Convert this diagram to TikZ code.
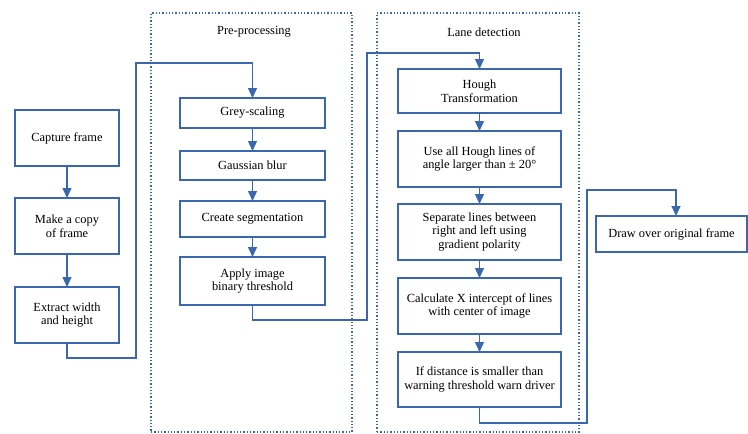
\documentclass[tikz,border=0pt]{standalone}
\usepackage{fontspec}
\setmainfont{Liberation Serif}
\usetikzlibrary{arrows.meta}
\definecolor{fb}{HTML}{3A68B0}
\tikzset{
  box/.style={draw=fb, line width=1.3pt, fill=white, align=center, inner sep=0pt, outer sep=0pt, font=\fontsize{12.4}{13.8}\selectfont},
  cont/.style={draw=fb, line width=1.3pt, dash pattern=on 1.3pt off 2pt, inner sep=0pt, outer sep=0pt},
  conn/.style={draw=fb, line width=1.3pt, -{Triangle[width=9pt,length=10pt]}},
  ttl/.style={font=\fontsize{12.4}{13.8}\selectfont, inner sep=0pt}
}
\begin{document}
\begin{tikzpicture}[x=1pt,y=-1pt]
\useasboundingbox (0,0) rectangle (748,434);
% containers
\node[cont, minimum width=201, minimum height=419] (pre) at (251.5,222.5) {};
\node[cont, minimum width=202, minimum height=419] (lane) at (478,222.5) {};
\node[ttl] (tpre) at (254,32) {Pre-processing};
\node[ttl] (tlane) at (484,32) {Lane detection};
% left column
\node[box, minimum width=104, minimum height=56] (cap) at (67,138) {Capture frame};
\node[box, minimum width=104, minimum height=56] (copy) at (67,226) {Make a copy\\of frame};
\node[box, minimum width=104, minimum height=56] (ext) at (67,315) {Extract width\\and height};
% pre-processing
\node[box, minimum width=145, minimum height=30] (grey) at (252.5,113) {Grey-scaling};
\node[box, minimum width=145, minimum height=29] (gauss) at (252.5,165.5) {Gaussian blur};
\node[box, minimum width=145, minimum height=36] (seg) at (252.5,219) {Create segmentation};
\node[box, minimum width=145, minimum height=48] (app) at (252.5,281) {Apply image\\binary threshold};
% lane detection
\node[box, minimum width=163, minimum height=44] (hough) at (479.5,91) {Hough\\Transformation};
\node[box, minimum width=163, minimum height=56] (use) at (479.5,159) {Use all Hough lines of\\angle larger than ± 20°};
\node[box, minimum width=163, minimum height=56] (sep) at (479.5,232) {Separate lines between\\right and left using\\gradient polarity};
\node[box, minimum width=163, minimum height=56] (calc) at (479.5,306) {Calculate X intercept of lines\\with center of image};
\node[box, minimum width=163, minimum height=55] (ifd) at (479.5,379.5) {If distance is smaller than\\warning threshold warn driver};
% output
\node[box, minimum width=151, minimum height=36] (drw) at (671.5,234) {Draw over original frame};
% junctions
\coordinate (j1) at (136,358);
\coordinate (j2) at (136,63);
\coordinate (j3) at (367,320);
\coordinate (j4) at (367,53);
\coordinate (j5) at (587,423);
\coordinate (j6) at (587,190);
\coordinate (dtop) at (676,216);
% connectors
\draw[conn] (cap) -- (copy);
\draw[conn] (copy) -- (ext);
\draw[conn] (ext.south) |- (j1) -- (j2) -| (grey.north);
\draw[conn] (grey) -- (gauss);
\draw[conn] (gauss) -- (seg);
\draw[conn] (seg) -- (app);
\draw[conn] (app.south) |- (j3) -- (j4) -| (hough.north);
\draw[conn] (hough) -- (use);
\draw[conn] (use) -- (sep);
\draw[conn] (sep) -- (calc);
\draw[conn] (calc) -- (ifd);
\draw[conn] (ifd.south) |- (j5) -- (j6) -| (dtop);
\end{tikzpicture}
\end{document}
